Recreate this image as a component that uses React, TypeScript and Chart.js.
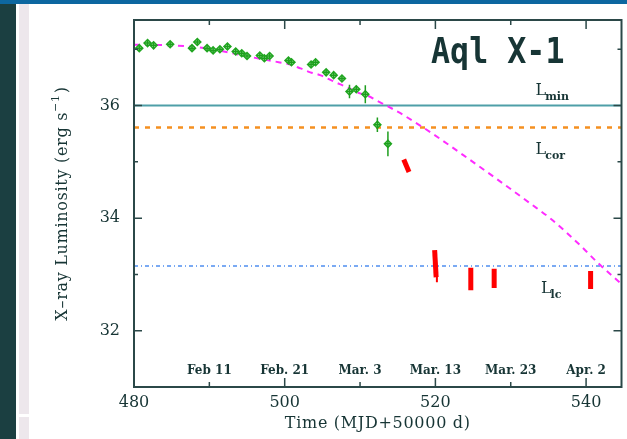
import React, { useEffect, useRef } from "react";
import { Chart, registerables } from "chart.js";

Chart.register(...registerables);

// ---- data ----
const greenX = [480.7, 481.8, 482.6, 484.8, 487.7, 488.4, 489.7, 490.5, 491.4, 492.4, 493.5, 494.3, 495.0, 496.7, 497.3, 498.0, 500.5, 500.9, 503.5, 504.1, 505.5, 506.5, 507.6, 508.6, 509.5, 510.7, 512.3, 513.7];
const greenY = [37.02, 37.11, 37.07, 37.09, 37.02, 37.13, 37.02, 36.98, 37.0, 37.05, 36.96, 36.93, 36.88, 36.89, 36.84, 36.88, 36.8, 36.77, 36.73, 36.77, 36.59, 36.54, 36.48, 36.25, 36.29, 36.2, 35.66, 35.32];
const greenErr = [0.05, 0.05, 0.05, 0.05, 0.05, 0.05, 0.05, 0.05, 0.05, 0.05, 0.05, 0.05, 0.05, 0.05, 0.05, 0.05, 0.05, 0.05, 0.05, 0.05, 0.05, 0.05, 0.05, 0.12, 0.06, 0.16, 0.13, 0.22];

const redXHi = [515.8, 519.9, 524.7, 527.8, 540.6];
const redYHi = [35.04, 33.43, 33.12, 33.1, 33.06];
const redXLo = [516.5, 520.1, 524.7, 527.8, 540.6];
const redYLo = [34.82, 32.95, 32.72, 32.76, 32.74];
const whiskX = [520.2];
const whiskHi = [32.98];
const whiskLo = [32.86];

const curveX = [480, 485, 490.4, 494.8, 499.2, 500.7, 502.1, 503.4, 504.7, 506.0, 507.3, 508.4, 509.7, 511.1, 512.2, 513.5, 514.6, 515.9, 519.4, 523.8, 528.2, 532.6, 535.2, 539.2, 541.6, 544.7];
const curveY = [37.08, 37.07, 37.0, 36.88, 36.77, 36.73, 36.66, 36.59, 36.54, 36.46, 36.38, 36.32, 36.23, 36.17, 36.09, 36.0, 35.92, 35.82, 35.52, 35.11, 34.69, 34.26, 34.0, 33.52, 33.2, 32.83];

const L_MIN = 36.0;
const L_COR = 35.61;
const L_LC = 33.15;

const X_MIN = 480;
const X_MAX = 544.7;
const Y_MIN = 31;
const Y_MAX = 37.52;

const xTickValues = [480, 490, 500, 510, 520, 530, 540];
const xTickLabels = [480, 500, 520, 540];
const yTickValues = [32, 33, 34, 35, 36, 37];
const yTickLabels = [32, 34, 36];
const dateTicks = [490, 500, 510, 520, 530, 540];
const dateLabels = ["Feb 11", "Feb. 21", "Mar. 3", "Mar. 13", "Mar. 23", "Apr. 2"];

const TEXT = "#173535";
const AXIS = "#2b4848";
const SERIF = '"DejaVu Serif", serif';

const overlay = {
  id: "overlay",
  afterDatasetsDraw(chart: any) {
    const { ctx, scales } = chart;
    const x = scales.x, y = scales.y;
    ctx.save();
    ctx.strokeStyle = "#1e9e1e";
    ctx.lineWidth = 1.5;
    greenX.forEach((gx, i) => {
      const px = x.getPixelForValue(gx);
      const py = y.getPixelForValue(greenY[i]);
      const e = greenErr[i];
      ctx.beginPath();
      ctx.moveTo(px, y.getPixelForValue(greenY[i] + e));
      ctx.lineTo(px, y.getPixelForValue(greenY[i] - e));
      ctx.moveTo(x.getPixelForValue(gx - 0.4), py);
      ctx.lineTo(x.getPixelForValue(gx + 0.4), py);
      ctx.stroke();
    });
    ctx.restore();
  },
  afterDraw(chart: any) {
    const { ctx, chartArea: a, scales } = chart;
    const x = scales.x, y = scales.y;
    ctx.save();
    // frame
    ctx.strokeStyle = AXIS;
    ctx.lineWidth = 2;
    ctx.strokeRect(a.left, a.top, a.right - a.left, a.bottom - a.top);
    // ticks
    ctx.lineWidth = 1.5;
    xTickValues.forEach((v) => {
      const px = x.getPixelForValue(v);
      const len = xTickLabels.includes(v) ? 9 : 5;
      ctx.beginPath();
      ctx.moveTo(px, a.bottom);
      ctx.lineTo(px, a.bottom - len);
      ctx.moveTo(px, a.top);
      ctx.lineTo(px, a.top + len);
      ctx.stroke();
    });
    yTickValues.forEach((v) => {
      const py = y.getPixelForValue(v);
      const len = yTickLabels.includes(v) ? 8 : 4;
      ctx.beginPath();
      ctx.moveTo(a.left, py);
      ctx.lineTo(a.left + len, py);
      ctx.moveTo(a.right, py);
      ctx.lineTo(a.right - len, py);
      ctx.stroke();
    });
    ctx.fillStyle = TEXT;
    // tick labels
    ctx.font = `16px ${SERIF}`;
    ctx.textAlign = "center";
    ctx.textBaseline = "middle";
    xTickLabels.forEach((v) => {
      ctx.fillText(String(v), x.getPixelForValue(v), a.bottom + 16);
    });
    ctx.textAlign = "right";
    yTickLabels.forEach((v) => {
      ctx.fillText(String(v), a.left - 14, y.getPixelForValue(v));
    });
    // date labels
    ctx.font = `bold 12px ${SERIF}`;
    ctx.textAlign = "center";
    dateTicks.forEach((v, i) => {
      ctx.fillText(dateLabels[i], x.getPixelForValue(v), a.bottom - 16);
    });
    // x title
    ctx.font = `16px ${SERIF}`;
    (ctx as any).letterSpacing = "0.7px";
    ctx.fillText("Time (MJD+50000 d)", (a.left + a.right) / 2, a.bottom + 37);
    // y title with superscript
    ctx.save();
    ctx.translate(67, (a.top + a.bottom) / 2);
    ctx.rotate(-Math.PI / 2);
    ctx.textBaseline = "alphabetic";
    ctx.textAlign = "left";
    const p1 = "X\u2013ray Luminosity (erg s";
    const p2 = "\u22121";
    const p3 = ")";
    ctx.font = `16px ${SERIF}`;
    const w1 = ctx.measureText(p1).width;
    const w3 = ctx.measureText(p3).width;
    ctx.font = `11px ${SERIF}`;
    const w2 = ctx.measureText(p2).width;
    const total = w1 + w2 + w3 + 1;
    let cx = -total / 2;
    ctx.font = `16px ${SERIF}`;
    ctx.fillText(p1, cx, 0);
    cx += w1;
    ctx.font = `11px ${SERIF}`;
    ctx.fillText(p2, cx, -8);
    cx += w2 + 1;
    ctx.font = `16px ${SERIF}`;
    ctx.fillText(p3, cx, 0);
    ctx.restore();
    (ctx as any).letterSpacing = "0px";
    // level labels
    const lab = (sub: string, xv: number, yv: number, dy: number) => {
      const px = x.getPixelForValue(xv);
      const py = y.getPixelForValue(yv) + dy;
      ctx.textAlign = "left";
      ctx.textBaseline = "alphabetic";
      ctx.font = `16px ${SERIF}`;
      ctx.fillText("L", px, py);
      const w = ctx.measureText("L").width;
      ctx.font = `bold 11px ${SERIF}`;
      ctx.fillText(sub, px + w - 1, py + 5);
    };
    lab("min", 533.3, L_MIN, -11);
    lab("cor", 533.3, L_COR, 26);
    lab("lc", 534.0, L_LC, 27);
    // title
    ctx.save();
    ctx.font = `bold 36px "DejaVu Sans Mono", monospace`;
    ctx.textAlign = "left";
    ctx.translate(431, 63);
    ctx.scale(0.88, 1);
    ctx.fillText("Aql X-1", 0, 0);
    ctx.restore();
    ctx.restore();
  },
};

function hline(v: number, color: string, width: number, dash: number[]) {
  return {
    type: "line",
    data: [
      { x: X_MIN, y: v },
      { x: X_MAX, y: v },
    ],
    borderColor: color,
    borderWidth: width,
    borderDash: dash,
    pointRadius: 0,
    showLine: true,
    order: 5,
  };
}

export default function App() {
  const ref = useRef<HTMLCanvasElement>(null);
  useEffect(() => {
    if (!ref.current) return;
    const redSets = redXHi.map((xh, i) => ({
      type: "line",
      data: [
        { x: xh, y: redYHi[i] },
        { x: redXLo[i], y: redYLo[i] },
      ],
      borderColor: "#ff0000",
      borderWidth: 5,
      borderCapStyle: "butt",
      pointRadius: 0,
      showLine: true,
      order: 2,
    }));
    const whiskSets = whiskX.map((wx, i) => ({
      type: "line",
      data: [
        { x: wx, y: whiskHi[i] },
        { x: wx, y: whiskLo[i] },
      ],
      borderColor: "#ff0000",
      borderWidth: 2,
      pointRadius: 0,
      showLine: true,
      order: 2,
    }));
    const chart = new Chart(ref.current, {
      type: "scatter",
      data: {
        datasets: [
          hline(L_MIN, "#4f9fa8", 2, []),
          hline(L_COR, "#f59020", 2.5, [5, 6]),
          hline(L_LC, "#4f8ff0", 1.5, [4, 3, 1, 3]),
          {
            type: "line",
            data: curveX.map((cx, i) => ({ x: cx, y: curveY[i] })),
            borderColor: "#ff2cff",
            borderWidth: 2,
            borderDash: [6, 5],
            pointRadius: 0,
            showLine: true,
            cubicInterpolationMode: "monotone",
            order: 4,
          },
          ...redSets,
          ...whiskSets,
          {
            type: "scatter",
            data: greenX.map((gx, i) => ({ x: gx, y: greenY[i] })),
            pointStyle: "rectRot",
            pointRadius: 3.5,
            borderColor: "#22a822",
            backgroundColor: "#b4eeb4",
            borderWidth: 1.5,
            order: 1,
          },
        ] as any,
      },
      options: {
        animation: false,
        responsive: false,
        events: [],
        layout: { padding: { left: 134, right: 2, top: 20, bottom: 52 } },
        plugins: { legend: { display: false }, tooltip: { enabled: false } },
        scales: {
          x: { type: "linear", min: X_MIN, max: X_MAX, display: false },
          y: { type: "linear", min: Y_MIN, max: Y_MAX, display: false },
        },
      } as any,
      plugins: [overlay],
    });
    return () => chart.destroy();
  }, []);

  return (
    <div style={{ position: "absolute", left: 0, top: 0, width: 627, height: 439, background: "#ffffff", overflow: "hidden" }}>
      <div style={{ position: "absolute", left: 0, top: 0, width: 627, height: 4, background: "#0d67a0" }} />
      <div style={{ position: "absolute", left: 0, top: 4, width: 16, height: 435, background: "#1b3f41" }} />
      <div style={{ position: "absolute", left: 19, top: 4, width: 10, height: 410, background: "#ede7ec" }} />
      <div style={{ position: "absolute", left: 19, top: 417, width: 10, height: 22, background: "#ede7ec" }} />
      <canvas ref={ref} width={627} height={439} style={{ position: "absolute", left: 0, top: 0 }} />
    </div>
  );
}
